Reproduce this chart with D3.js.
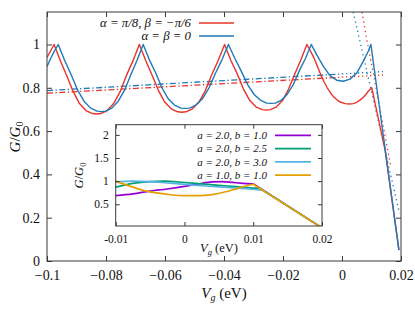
<!DOCTYPE html>
<html><head><meta charset="utf-8">
<script src="https://cdn.jsdelivr.net/npm/d3@7"></script>
<style>
body{margin:0;background:#fff}
svg{display:block}
svg text{font-family:"Liberation Serif","Times New Roman","DejaVu Serif",serif !important;fill:#111}
</style>
</head><body>
<svg id="c" width="415" height="312"></svg>
<script>
// ---------- data ----------
const xTicks = [-0.1,-0.08,-0.06,-0.04,-0.02,0,0.02];
const xTickLabels = ["−0.1","−0.08","−0.06","−0.04","−0.02","0","0.02"];
const yTicks = [0,0.2,0.4,0.6,0.8,1];
const yTickLabels = ["0","0.2","0.4","0.6","0.8","1"];

const insetXTicks = [-0.01,0,0.01,0.02];
const insetXTickLabels = ["-0.01","0","0.01","0.02"];
const insetYTicks = [0.5,1,1.5,2];
const insetYTickLabels = ["0.5","1","1.5","2"];

// alpha = pi/8, beta = -pi/6  (solid)
const redSolid = [
[-0.1,0.94],[-0.0988,0.97],[-0.0976,1],
[-0.0954,0.923],[-0.0933,0.856],[-0.0911,0.782],[-0.089,0.727],[-0.0868,0.695],[-0.0846,0.681],[-0.0832,0.679],
[-0.0818,0.681],[-0.0796,0.695],[-0.0774,0.727],[-0.0752,0.782],[-0.0731,0.856],[-0.0709,0.923],[-0.0687,1],
[-0.0665,0.925],[-0.0644,0.859],[-0.0622,0.787],[-0.0601,0.734],[-0.0579,0.703],[-0.0557,0.689],[-0.0543,0.687],
[-0.0529,0.689],[-0.0507,0.703],[-0.0485,0.734],[-0.0463,0.787],[-0.0442,0.859],[-0.042,0.925],[-0.0398,1],
[-0.0377,0.927],[-0.0355,0.864],[-0.0334,0.794],[-0.0313,0.742],[-0.0292,0.712],[-0.027,0.699],[-0.0256,0.697],
[-0.0242,0.699],[-0.0222,0.712],[-0.0201,0.742],[-0.0181,0.794],[-0.016,0.864],[-0.014,0.927],[-0.0119,1],
[-0.0107,0.97],[-0.0095,0.938],[-0.0083,0.898],[-0.0072,0.86],[-0.0061,0.828],[-0.005,0.8],[-0.0038,0.775],
[-0.0027,0.756],[-0.0015,0.742],[-0.0004,0.733],[0.0011,0.727],[0.0025,0.725],[0.0038,0.727],[0.005,0.733],
[0.0061,0.743],[0.0072,0.756],[0.0081,0.769],[0.0089,0.784],[0.0101,0.8],
[0.0146,0.513],[0.0193,0.05]
];
// alpha = beta = 0 (solid)
const blueSolid = [
[-0.1,0.897],[-0.0989,0.932],[-0.0976,0.967],[-0.0962,1],
[-0.094,0.926],[-0.0918,0.86],[-0.0896,0.789],[-0.0874,0.737],[-0.0852,0.706],[-0.083,0.692],[-0.0815,0.69],
[-0.0801,0.692],[-0.078,0.706],[-0.0759,0.737],[-0.0737,0.789],[-0.0716,0.86],[-0.0695,0.926],[-0.0674,1],
[-0.0653,0.929],[-0.0631,0.867],[-0.061,0.799],[-0.0589,0.749],[-0.0568,0.72],[-0.0546,0.706],[-0.0532,0.705],
[-0.0517,0.706],[-0.0495,0.72],[-0.0473,0.749],[-0.0451,0.799],[-0.0429,0.867],[-0.0407,0.929],[-0.0385,1],
[-0.0363,0.935],[-0.0342,0.878],[-0.032,0.815],[-0.0298,0.769],[-0.0276,0.742],[-0.0255,0.729],[-0.024,0.728],
[-0.0226,0.729],[-0.0206,0.742],[-0.0186,0.769],[-0.0165,0.815],[-0.0145,0.878],[-0.0124,0.935],[-0.0104,1],
[-0.0086,0.953],[-0.0063,0.899],[-0.0041,0.856],[-0.0018,0.835],[0.0004,0.83],[0.0027,0.84],[0.005,0.868],
[0.0072,0.922],[0.0089,0.969],[0.0098,1],
[0.0193,0.05]
];
// background (dash-dot) and its dotted continuation
const redDashDot  = [[-0.1,0.775],[0.0,0.849]];
const redDotted   = [[0.0,0.849],[0.0139,0.859]];
const blueDashDot = [[-0.1,0.787],[0.0,0.864]];
const blueDotted  = [[0.0,0.864],[0.0139,0.875]];
// steep dotted lines
const redSteep  = [[0.0068,1.15],[0.0084,1.022],[0.0106,0.868],[0.0165,0.44]];
const blueSteep = [[0.0038,1.15],[0.0195,0.22]];

// inset curves (last point = end of the straight falling branch)
const insetPurple = [[-0.01,0.686],[-0.0075,0.725],[-0.005,0.785],[-0.0025,0.83],[0,0.885],[0.002,0.94],[0.004,0.985],[0.0055,0.99],[0.007,0.972],[0.0085,0.953],[0.0101,0.935],[0.0201,-0.02]];
const insetGreen  = [[-0.01,0.87],[-0.0075,0.95],[-0.005,0.99],[-0.003,1.0],[0,0.97],[0.0025,0.94],[0.005,0.91],[0.0075,0.88],[0.0095,0.856],[0.0109,0.85],[0.0201,-0.02]];
const insetSky    = [[-0.01,0.985],[-0.0075,1.0],[-0.005,0.99],[-0.0025,0.96],[0,0.93],[0.0025,0.9],[0.005,0.875],[0.0075,0.85],[0.0095,0.83],[0.0114,0.80],[0.0201,-0.02]];
const insetOrange = [[-0.01,1.0],[-0.0075,0.87],[-0.006,0.80],[-0.004,0.745],[-0.002,0.705],[0,0.685],[0.002,0.685],[0.004,0.71],[0.006,0.77],[0.008,0.855],[0.01,0.933],[0.0201,-0.02]];

const mainLegend = ["α = π/8, β = −π/6", "α = β = 0"];
const insetLegend = ["a = 2.0, b = 1.0","a = 2.0, b = 2.5","a = 2.0, b = 3.0","a = 1.0, b = 1.0"];

// ---------- styles ----------
const FONT = "Liberation Serif";
const RED = "#e8332b", BLUE = "#1f78b8";
const PURPLE = "#9400d3", GREEN = "#009e73", SKY = "#56b4e9", ORANGE = "#e69f00";
const FRAME = "#3a3a3a";

const svg = d3.select("#c");

// ---------- main plot ----------
const x = d3.scaleLinear().domain([-0.1,0.02]).range([47,401]);
const y = d3.scaleLinear().domain([0,1.15]).range([261,12]);

svg.append("clipPath").attr("id","mclip").append("rect")
  .attr("x",x(-0.1)).attr("y",y(1.15)).attr("width",x(0.02)-x(-0.1)).attr("height",y(0)-y(1.15));

const line = d3.line().x(d=>x(d[0])).y(d=>y(d[1]));
const gm = svg.append("g").attr("clip-path","url(#mclip)");

function path(g, d, color, w, dash){
  const p = g.append("path").attr("d",d).attr("fill","none")
    .attr("stroke",color).attr("stroke-width",w).attr("stroke-linejoin","round");
  if(dash) p.attr("stroke-dasharray",dash);
  return p;
}
path(gm, line(redDashDot), RED, 1.3, "6,2.5,1.3,2.5");
path(gm, line(blueDashDot), BLUE, 1.3, "6,2.5,1.3,2.5");
path(gm, line(redDotted), RED, 1.3, "1.3,2.7");
path(gm, line(blueDotted), BLUE, 1.3, "1.3,2.7");
path(gm, line(redSteep), RED, 1.3, "1.3,3.5");
path(gm, line(blueSteep), BLUE, 1.3, "1.3,3.5");
path(gm, line(redSolid), RED, 1.4);
path(gm, line(blueSolid), BLUE, 1.4);

// frame
svg.append("rect").attr("x",x(-0.1)).attr("y",y(1.15)).attr("width",x(0.02)-x(-0.1)).attr("height",y(0)-y(1.15))
  .attr("fill","none").attr("stroke",FRAME).attr("stroke-width",1);

// axes (ticks inward, mirrored)
const fmtX = d => xTickLabels[xTicks.indexOf(d)];
const fmtY = d => yTickLabels[yTicks.indexOf(d)];
const ax = svg.append("g").attr("transform",`translate(0,${y(0)})`)
  .call(d3.axisBottom(x).tickValues(xTicks).tickFormat(fmtX).tickSize(-5));
const axt = svg.append("g").attr("transform",`translate(0,${y(1.15)})`)
  .call(d3.axisTop(x).tickValues(xTicks).tickFormat("").tickSize(-5));
const ay = svg.append("g").attr("transform",`translate(${x(-0.1)},0)`)
  .call(d3.axisLeft(y).tickValues(yTicks).tickFormat(fmtY).tickSize(-5));
const ayr = svg.append("g").attr("transform",`translate(${x(0.02)},0)`)
  .call(d3.axisRight(y).tickValues(yTicks).tickFormat("").tickSize(-5));
[ax,axt,ay,ayr].forEach(a=>{
  a.attr("font-family",FONT);
  a.select(".domain").remove();
  a.selectAll(".tick line").attr("stroke",FRAME);
  a.selectAll("text").attr("font-family",FONT).attr("font-size",14).attr("fill","#111");
});
ax.selectAll("text").attr("dy","0.71em").attr("y",9);
ay.selectAll("text").attr("x",-7);

// axis labels
function txt(sel){ return sel.attr("font-family",FONT); }
txt(svg.append("text")).attr("x",224).attr("y",298).attr("text-anchor","middle").attr("font-size",15)
  .html('<tspan font-style="italic">V</tspan><tspan font-style="italic" font-size="10" dy="3">g</tspan><tspan dy="-3"> (eV)</tspan>');
txt(svg.append("text")).attr("transform","translate(20,137) rotate(-90)").attr("text-anchor","middle").attr("font-size",15)
  .html('<tspan font-style="italic">G</tspan>/<tspan font-style="italic">G</tspan><tspan font-size="10" dy="3">0</tspan>');

// main legend
const mlColors = [RED, BLUE];
mainLegend.forEach((t,i)=>{
  const yy = 23 + i*13;
  txt(svg.append("text")).attr("x",191).attr("y",yy+4.2).attr("text-anchor","end").attr("font-size",12.8)
    .text(t).attr("font-style","italic");
  svg.append("line").attr("x1",199).attr("x2",234).attr("y1",yy).attr("y2",yy)
    .attr("stroke",mlColors[i]).attr("stroke-width",1.4);
});

// ---------- inset ----------
const xi = d3.scaleLinear().domain([-0.01,0.02]).range([115.7,322]);
const yi = d3.scaleLinear().domain([0.03,2.22]).range([226,124.7]);
svg.append("rect").attr("x",xi(-0.01)).attr("y",yi(2.22)).attr("width",xi(0.02)-xi(-0.01)).attr("height",yi(0.03)-yi(2.22))
  .attr("fill","#fff");
svg.append("clipPath").attr("id","iclip").append("rect")
  .attr("x",xi(-0.01)).attr("y",yi(2.22)).attr("width",xi(0.02)-xi(-0.01)).attr("height",yi(0.03)-yi(2.22));
const liSmooth = d3.line().x(d=>xi(d[0])).y(d=>yi(d[1])).curve(d3.curveMonotoneX);
const gi = svg.append("g").attr("clip-path","url(#iclip)");
const insetSeries = [insetPurple, insetGreen, insetSky, insetOrange];
const insetColors = [PURPLE, GREEN, SKY, ORANGE];
insetSeries.forEach((s,i)=>{
  const head = s.slice(0,-1), last = s[s.length-1];
  const d = liSmooth(head) + "L" + xi(last[0]) + "," + yi(last[1]);
  path(gi, d, insetColors[i], 1.7);
});

svg.append("rect").attr("x",xi(-0.01)).attr("y",yi(2.22)).attr("width",xi(0.02)-xi(-0.01)).attr("height",yi(0.03)-yi(2.22))
  .attr("fill","none").attr("stroke",FRAME).attr("stroke-width",1);
const fmtXi = d => insetXTickLabels[insetXTicks.indexOf(d)];
const fmtYi = d => insetYTickLabels[insetYTicks.indexOf(d)];
const bx = svg.append("g").attr("transform",`translate(0,${yi(0.03)})`)
  .call(d3.axisBottom(xi).tickValues(insetXTicks).tickFormat(fmtXi).tickSize(-4));
const bxt = svg.append("g").attr("transform",`translate(0,${yi(2.22)})`)
  .call(d3.axisTop(xi).tickValues(insetXTicks).tickFormat("").tickSize(-4));
const by = svg.append("g").attr("transform",`translate(${xi(-0.01)},0)`)
  .call(d3.axisLeft(yi).tickValues(insetYTicks).tickFormat(fmtYi).tickSize(-4));
const byr = svg.append("g").attr("transform",`translate(${xi(0.02)},0)`)
  .call(d3.axisRight(yi).tickValues(insetYTicks).tickFormat("").tickSize(-4));
[bx,bxt,by,byr].forEach(a=>{
  a.attr("font-family",FONT);
  a.select(".domain").remove();
  a.selectAll(".tick line").attr("stroke",FRAME);
  a.selectAll("text").attr("font-family",FONT).attr("font-size",11.5).attr("fill","#111");
});
bx.selectAll("text").attr("dy","0.71em").attr("y",9);
by.selectAll("text").attr("x",-7);

txt(svg.append("text")).attr("x",219).attr("y",252).attr("text-anchor","middle").attr("font-size",12.5)
  .html('<tspan font-style="italic">V</tspan><tspan font-style="italic" font-size="8.5" dy="2.5">g</tspan><tspan dy="-2.5"> (eV)</tspan>');
txt(svg.append("text")).attr("transform","translate(83,175.5) rotate(-90)").attr("text-anchor","middle").attr("font-size",12.5)
  .html('<tspan font-style="italic">G</tspan>/<tspan font-style="italic">G</tspan><tspan font-size="8.5" dy="2.5">0</tspan>');

insetLegend.forEach((t,i)=>{
  const yy = 135.3 + i*13.25;
  txt(svg.append("text")).attr("x",267).attr("y",yy+3.8).attr("text-anchor","end").attr("font-size",11)
    .attr("font-style","italic").text(t);
  svg.append("line").attr("x1",275).attr("x2",311).attr("y1",yy).attr("y2",yy)
    .attr("stroke",insetColors[i]).attr("stroke-width",1.7);
});
</script>
</body></html>
